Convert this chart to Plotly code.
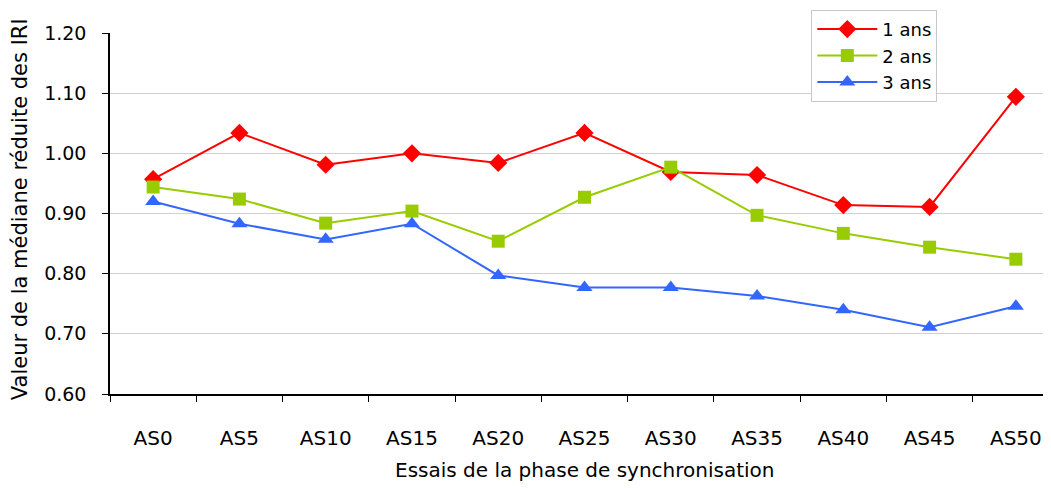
import plotly.graph_objects as go

categories = ["AS0", "AS5", "AS10", "AS15", "AS20", "AS25", "AS30", "AS35", "AS40", "AS45", "AS50"]
an1 = [0.957, 1.034, 0.981, 1.000, 0.984, 1.034, 0.969, 0.964, 0.914, 0.911, 1.094]
an2 = [0.944, 0.924, 0.884, 0.904, 0.854, 0.927, 0.977, 0.897, 0.867, 0.844, 0.824]
an3 = [0.920, 0.883, 0.857, 0.883, 0.797, 0.777, 0.777, 0.763, 0.740, 0.711, 0.746]
series_names = ["1 ans", "2 ans", "3 ans"]
x_title = "Essais de la phase de synchronisation"
y_title = "Valeur de la médiane réduite des IRI"

FONT = "Comic Sans MS, DejaVu Sans, sans-serif"

fig = go.Figure()
styles = [
    ("#ff0000", "diamond", 14),
    ("#99cc00", "square", 13),
    ("#3366ff", "triangle-up", 14),
]
for name, vals, (col, sym, sz) in zip(series_names, [an1, an2, an3], styles):
    fig.add_trace(go.Scatter(
        x=categories, y=vals, name=name, mode="lines+markers",
        line=dict(color=col, width=2),
        marker=dict(color=col, symbol=sym, size=sz, line=dict(width=0)),
    ))

fig.update_layout(
    width=1051, height=490,
    margin=dict(l=102, r=0, t=25, b=104, autoexpand=False),
    paper_bgcolor="white", plot_bgcolor="white",
    font=dict(family=FONT, size=19, color="black"),
    showlegend=True,
    legend=dict(
        x=0.739, y=1.064, xanchor="left", yanchor="top",
        bordercolor="#c8c8c8", borderwidth=1, bgcolor="white",
        font=dict(size=18), tracegroupgap=0, itemwidth=60,
    ),
    xaxis=dict(
        type="category", range=[-0.5, 10.5], automargin=False,
        showline=True, linecolor="black", linewidth=1.5,
        ticks="outside", ticklen=6, tickcolor="black",
        tickson="boundaries", showgrid=False,
        ticklabelstandoff=25, tickfont=dict(size=20),
    ),
    yaxis=dict(
        range=[0.60, 1.20], dtick=0.1, tickformat=".2f", automargin=False,
        showline=True, linecolor="black", linewidth=1.5,
        ticks="outside", ticklen=6, tickcolor="black",
        showgrid=True, gridcolor="#d0d0d0", gridwidth=1,
        zeroline=False, ticklabelstandoff=12, tickfont=dict(size=19),
    ),
    annotations=[
        dict(text=x_title, xref="paper", yref="paper", x=0.5, y=-0.2105,
             xanchor="center", yanchor="middle", showarrow=False,
             font=dict(size=20)),
        dict(text=y_title, xref="paper", yref="paper", x=-0.0948, y=0.512,
             xanchor="center", yanchor="middle", showarrow=False,
             textangle=-90, font=dict(size=21)),
    ],
)

fig.write_html("out.html")
